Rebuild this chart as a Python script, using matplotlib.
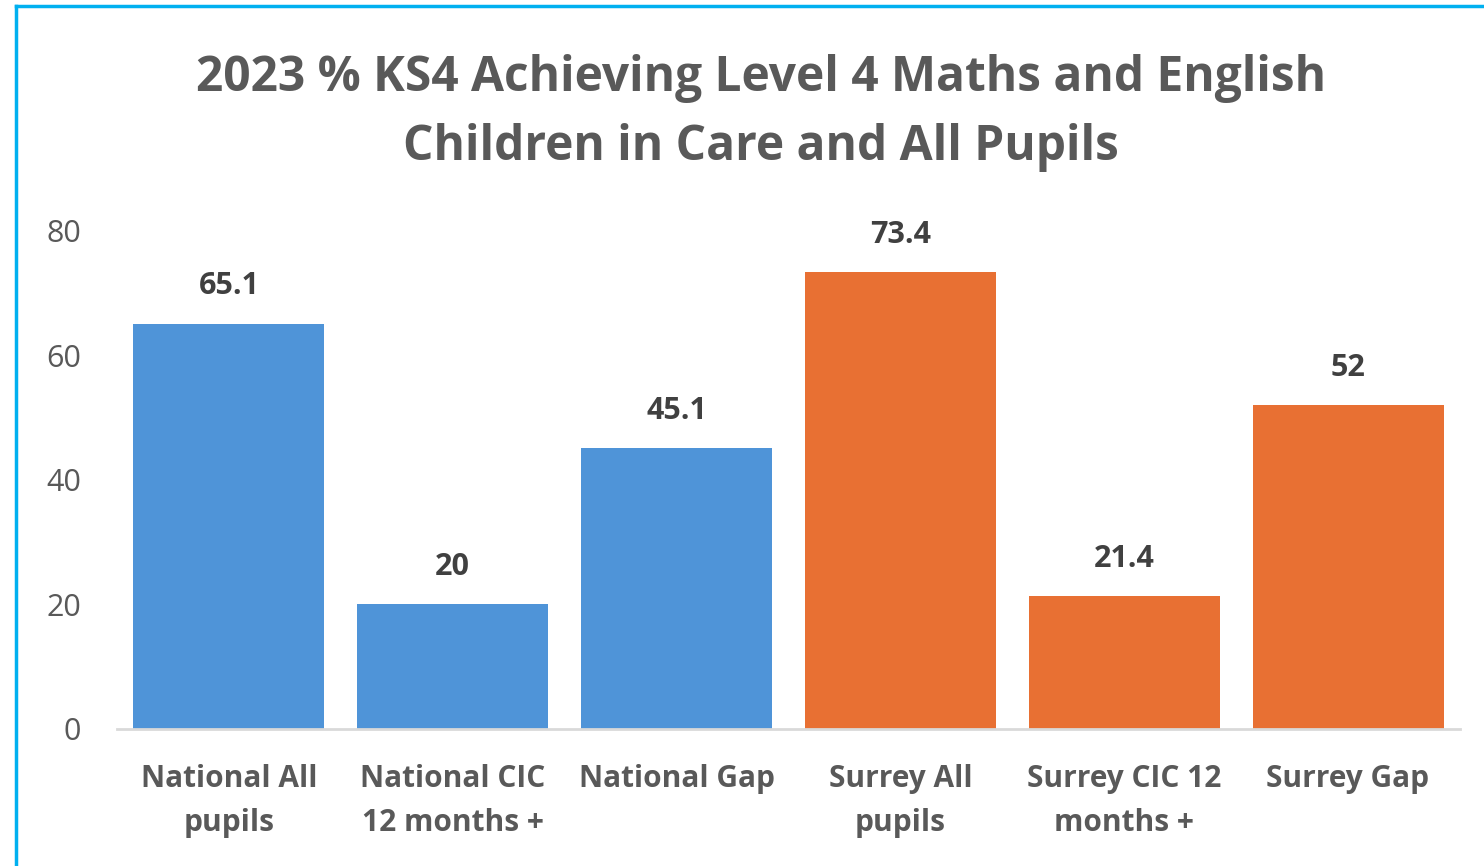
import matplotlib.pyplot as plt
from matplotlib.lines import Line2D

plt.rcParams['font.family'] = ['Open Sans', 'DejaVu Sans']

# Categories and values for the bars
categories = ['National All\npupils', 'National CIC\n12 months +', 'National Gap',
              'Surrey All\npupils', 'Surrey CIC 12\nmonths +', 'Surrey Gap']
values = [65.1, 20, 45.1, 73.4, 21.4, 52]
value_labels = ['65.1', '20', '45.1', '73.4', '21.4', '52']
bar_colors = ['#4F94D8', '#4F94D8', '#4F94D8', '#E87033', '#E87033', '#E87033']
y_ticks = [0, 20, 40, 60, 80]

text_grey = '#595959'

fig = plt.figure(figsize=(14.84, 8.66), dpi=100)
ax = fig.add_axes([0.0788, 0.1582, 0.905, 0.5751])

x = range(len(categories))
bars = ax.bar(x, values, width=0.853, color=bar_colors)

# Value labels above each bar
for xi, v, lab in zip(x, values, value_labels):
    ax.annotate(lab, (xi, v), xytext=(0, 16), textcoords='offset points',
                ha='center', va='bottom', fontsize=22, fontweight='bold', color='#404040')

ax.set_xlim(-0.5, 5.5)
ax.set_ylim(0, 80)
ax.set_yticks(y_ticks)
ax.set_xticks(list(x))
ax.set_xticklabels(categories, fontsize=21.5, fontweight='bold', color=text_grey, linespacing=1.62)
ax.tick_params(axis='y', labelsize=22, labelcolor=text_grey, length=0, pad=26)
ax.tick_params(axis='x', length=0, pad=25)

for side in ['top', 'right', 'left']:
    ax.spines[side].set_visible(False)
ax.spines['bottom'].set_color('#D9D9D9')
ax.spines['bottom'].set_linewidth(2)

fig.text(0.513, 0.8695, '2023 % KS4 Achieving Level 4 Maths and English\nChildren in Care and All Pupils',
         ha='center', va='center', fontsize=34.5, fontweight='bold', color=text_grey, linespacing=1.53)

# Cyan frame on the left and top edges
fig.add_artist(Line2D([16 / 1484, 16 / 1484], [0, 1 - 6 / 866], color='#00B0F0', linewidth=2.5))
fig.add_artist(Line2D([16 / 1484, 1], [1 - 6 / 866, 1 - 6 / 866], color='#00B0F0', linewidth=2.5))

fig.savefig('out.png', dpi=100)
